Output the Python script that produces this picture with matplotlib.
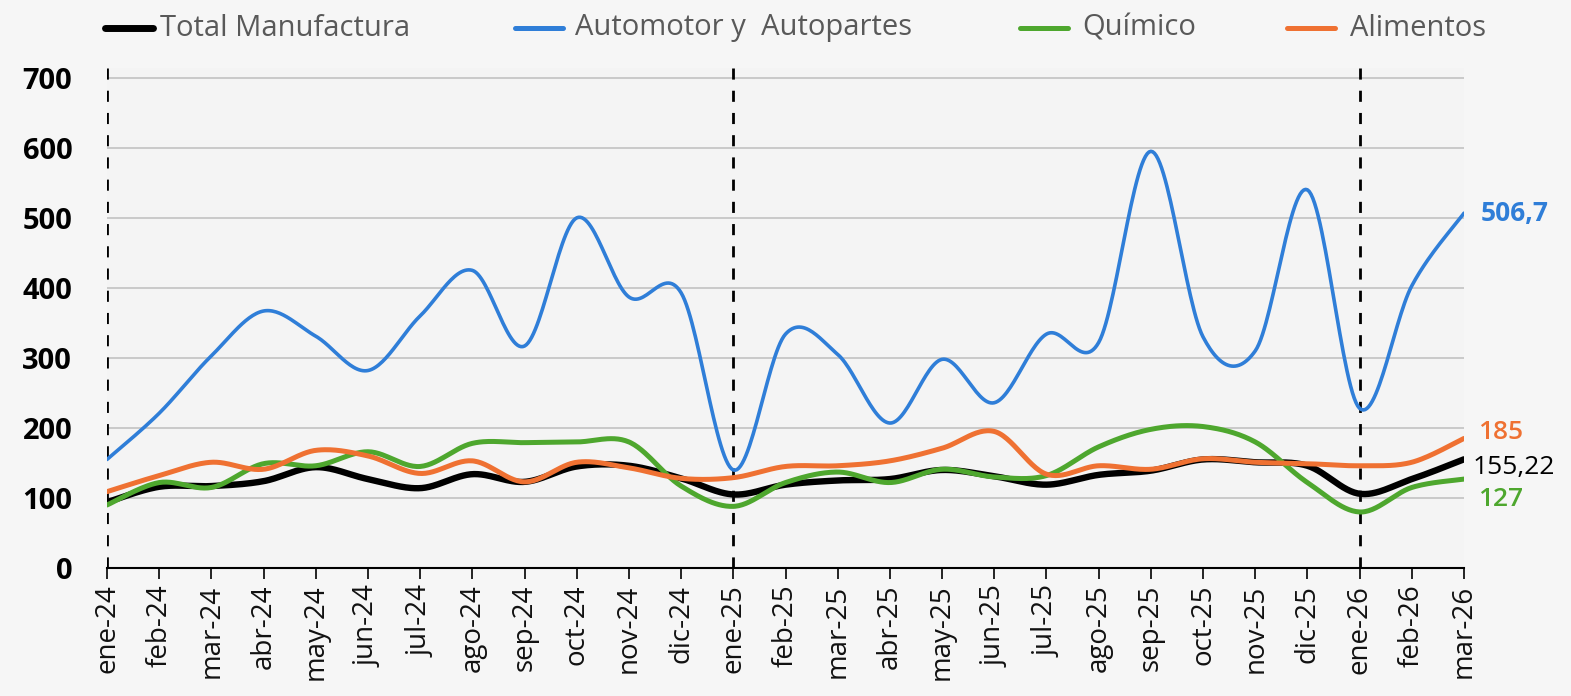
import numpy as np
import matplotlib
matplotlib.use("Agg")
import matplotlib.pyplot as plt
from matplotlib.lines import Line2D

months = ["ene-24", "feb-24", "mar-24", "abr-24", "may-24", "jun-24", "jul-24", "ago-24",
          "sep-24", "oct-24", "nov-24", "dic-24", "ene-25", "feb-25", "mar-25", "abr-25",
          "may-25", "jun-25", "jul-25", "ago-25", "sep-25", "oct-25", "nov-25", "dic-25",
          "ene-26", "feb-26", "mar-26"]

total = [94, 116, 117, 124, 144, 127, 114, 134, 123, 145, 146, 128, 105,
         119, 125, 127, 140, 131, 119, 133, 139, 155, 151, 146, 106, 127, 155.22]
automotor = [155, 221, 303, 367, 331, 282, 360, 425, 317, 500, 387, 393, 140,
             334, 305, 207, 298, 236, 334, 322, 595, 330, 310, 540, 228, 403, 506.7]
quimico = [90, 122, 115, 149, 146, 166, 145, 178, 179, 180, 180, 117, 88,
           122, 137, 122, 141, 130, 132, 173, 198, 202, 180, 122, 80, 115, 127]
alimentos = [109, 132, 151, 141, 168, 160, 135, 153, 123, 151, 143, 128, 129,
             145, 146, 153, 171, 195, 134, 146, 141, 156, 151, 149, 146, 151, 185]

series_names = ["Total Manufactura", "Automotor y  Autopartes", "Químico", "Alimentos"]
colors = ["#000000", "#2f7ed8", "#4ea72e", "#ef7132"]
widths = [4.6, 2.6, 3.6, 3.6]
end_labels = ["155,22", "506,7", "127", "185"]
yticks = [0, 100, 200, 300, 400, 500, 600, 700]
dashed_at = ["ene-24", "ene-25", "ene-26"]


def smooth(y, n=30):
    y = np.asarray(y, dtype=float)
    x = np.arange(len(y), dtype=float)
    P = np.column_stack([x, y])
    Pp = np.vstack([P[0], P, P[-1]])
    out = []
    t = np.linspace(0, 1, n)[:, None]
    for i in range(len(P) - 1):
        p0, p1, p2, p3 = Pp[i], Pp[i + 1], Pp[i + 2], Pp[i + 3]
        c1 = p1 + (p2 - p0) / 6
        c2 = p2 - (p3 - p1) / 6
        seg = ((1 - t) ** 3) * p1 + 3 * ((1 - t) ** 2) * t * c1 + 3 * (1 - t) * t ** 2 * c2 + t ** 3 * p2
        out.append(seg if i == 0 else seg[1:])
    s = np.vstack(out)
    return s[:, 0], s[:, 1]


plt.rcParams['font.family'] = ['Open Sans', 'DejaVu Sans']

W, H = 1571, 696
fig = plt.figure(figsize=(W / 100, H / 100), dpi=100)
fig.patch.set_facecolor("#f6f6f6")
ax = fig.add_axes([107 / W, 1 - 568 / H, (1464 - 107) / W, (568 - 68) / H])
ax.set_facecolor("#f4f4f4")

x = np.arange(len(months))
ax.set_xlim(0, len(months) - 1)
ax.set_ylim(0, 714)

for v in yticks[1:]:
    ax.axhline(v, color="#c9c9c9", lw=1.4, zorder=1)

for m in dashed_at:
    ax.axvline(months.index(m), color="black", lw=2.0, ls=(0, (4, 4)), zorder=2)

data = [total, automotor, quimico, alimentos]
for i, (d, c, w) in enumerate(zip(data, colors, widths)):
    sx, sy = smooth(d)
    ax.plot(sx, sy, color=c, lw=w, solid_capstyle="round", zorder=3 + i)

# end labels
label_offsets = [-6, 0, -14.5, 4.5]
label_dx = [6, 12, 10, 10]
weights = ["normal", "bold", "semibold", "semibold"]
for d, c, lab, off, dx, wt in zip(data, colors, end_labels, label_offsets, label_dx, weights):
    ax.annotate(lab, xy=(x[-1], d[-1]), xytext=(dx, off), textcoords="offset points",
                color=c, fontsize=19, fontweight=wt, va="center", ha="left",
                annotation_clip=False)

ax.set_xticks(x)
ax.set_xticklabels(months, rotation=90, fontsize=20, color="#111111")
ax.set_yticks(yticks)
ax.set_yticklabels([str(v) for v in yticks], fontsize=21, fontweight="bold")
ax.tick_params(axis="y", length=0, pad=25)
ax.tick_params(axis="x", length=8, width=1.2, color="black", pad=4, direction="out")

for s in ["top", "right", "left"]:
    ax.spines[s].set_visible(False)
ax.spines["bottom"].set_color("black")
ax.spines["bottom"].set_linewidth(1.5)

# legend (manual layout)
leg_x0 = [105, 515, 1020, 1287]
leg_tx = [160, 575, 1082, 1350]
leg_w = [5.0, 3.6, 3.6, 3.6]
leg_y = 1 - 28 / H
for name, c, x0, tx, lw in zip(series_names, colors, leg_x0, leg_tx, leg_w):
    fig.add_artist(Line2D([x0 / W, (x0 + 48) / W], [leg_y, leg_y], color=c, lw=lw,
                          solid_capstyle="round", transform=fig.transFigure))
    fig.text(tx / W, leg_y, name, fontsize=21, color="#595959",
             va="center", ha="left")

fig.savefig("out.png", dpi=100, facecolor=fig.get_facecolor())
